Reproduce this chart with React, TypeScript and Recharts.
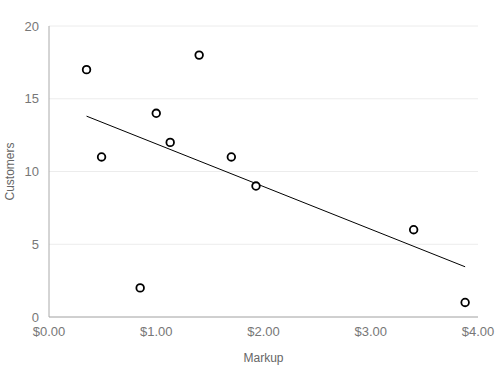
import { ScatterChart, Scatter, XAxis, YAxis, CartesianGrid } from 'recharts'

const markup = [0.35, 0.49, 0.85, 1.0, 1.13, 1.4, 1.7, 1.93, 3.4, 3.88]
const customers = [17, 11, 2, 14, 12, 18, 11, 9, 6, 1]
const xTicks = [0, 1, 2, 3, 4]
const yTicks = [0, 5, 10, 15, 20]

const points = markup.map((x, i) => ({ x, y: customers[i] }))

// least squares trend line through the points
const n = markup.length
const mx = markup.reduce((a, b) => a + b, 0) / n
const my = customers.reduce((a, b) => a + b, 0) / n
let sxy = 0
let sxx = 0
markup.forEach((x, i) => {
  sxy += (x - mx) * (customers[i] - my)
  sxx += (x - mx) * (x - mx)
})
const slope = sxy / sxx
const intercept = my - slope * mx
const xMin = Math.min(...markup)
const xMax = Math.max(...markup)
const trend = [
  { x: xMin, y: intercept + slope * xMin },
  { x: xMax, y: intercept + slope * xMax }
]

const font = '"Liberation Sans", Arial, sans-serif'

const Dot = (props: { cx?: number; cy?: number }) => (
  <circle cx={props.cx} cy={props.cy} r={3.8} fill="#fff" stroke="#000" strokeWidth={1.8} />
)

const YTitle = (props: { viewBox?: { y: number; height: number } }) => {
  const vb = props.viewBox || { y: 26, height: 291 }
  const cy = vb.y + vb.height / 2
  return (
    <text
      x={10}
      y={cy}
      transform={`rotate(-90, 10, ${cy})`}
      textAnchor="middle"
      dominantBaseline="central"
      fill="#666"
      fontSize={12}
      fontFamily={font}
    >
      Customers
    </text>
  )
}

export default function App() {
  return (
    <div style={{ position: 'fixed', left: 0, top: 0, background: '#fff', fontFamily: font }}>
      <ScatterChart width={500} height={370} margin={{ top: 26, right: 22, bottom: 0, left: 0 }}>
        <CartesianGrid vertical={false} stroke="#ececec" />
        <XAxis
          type="number"
          dataKey="x"
          domain={[0, 4]}
          ticks={xTicks}
          tickFormatter={(v: number) => `$${v.toFixed(2)}`}
          tickLine={false}
          tickMargin={4}
          axisLine={{ stroke: '#aaa' }}
          tick={{ fill: '#777', fontSize: 13, fontFamily: font }}
          height={53}
          label={{ value: 'Markup', position: 'insideBottom', offset: 8, fill: '#666', fontSize: 12, fontFamily: font }}
        />
        <YAxis
          type="number"
          dataKey="y"
          domain={[0, 20]}
          ticks={yTicks}
          tickLine={false}
          tickMargin={4}
          axisLine={{ stroke: '#aaa' }}
          tick={{ fill: '#777', fontSize: 13, fontFamily: font }}
          width={49}
          label={<YTitle />}
        />
        <Scatter data={trend} line={{ stroke: '#000', strokeWidth: 1 }} shape={() => <g />} isAnimationActive={false} />
        <Scatter data={points} shape={<Dot />} isAnimationActive={false} />
      </ScatterChart>
    </div>
  )
}
